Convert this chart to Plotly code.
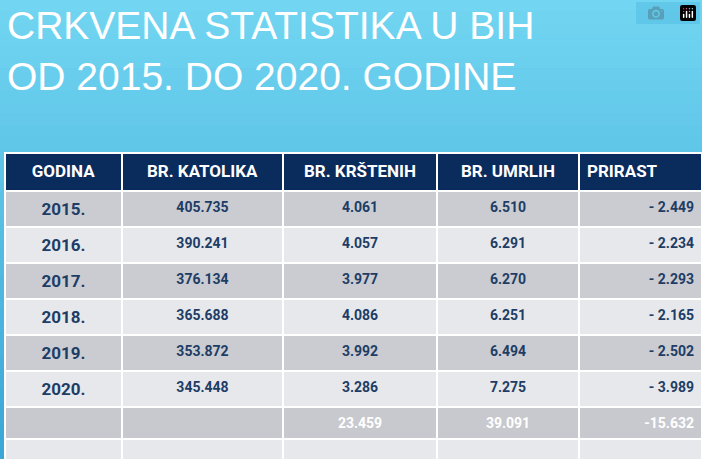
import plotly.graph_objects as go
import numpy as np

headers = ["GODINA", "BR. KATOLIKA", "BR. KRŠTENIH", "BR. UMRLIH", "PRIRAST"]
godina = ["2015.", "2016.", "2017.", "2018.", "2019.", "2020.", "", ""]
katolika = ["405.735", "390.241", "376.134", "365.688", "353.872", "345.448", "", ""]
krsteni = ["4.061", "4.057", "3.977", "4.086", "3.992", "3.286", "23.459", ""]
umrli = ["6.510", "6.291", "6.270", "6.251", "6.494", "7.275", "39.091", ""]
prirast = ["- 2.449", "- 2.234", "- 2.293", "- 2.165", "- 2.502", "- 3.989", "-15.632", ""]

W, H = 702, 459
fig = go.Figure()

n = 40
top = np.array([0x72, 0xd6, 0xf2]); bot = np.array([0x3c, 0xa6, 0xd6])
for i in range(n):
    t = i / (n - 1)
    c = (top * (1 - t) + bot * t).astype(int)
    fig.add_shape(type="rect", xref="paper", yref="paper", x0=0, x1=1,
                  y0=1 - (i + 1) / n, y1=1 - i / n + 0.001, line_width=0,
                  fillcolor=f"rgb({c[0]},{c[1]},{c[2]})", layer="below")

dark, light, tot = "#cbccd1", "#e7e8eb", "#c8c9ce"
rowfill = [dark, light, dark, light, dark, light, tot, light]
txt = "#1d3d66"
rowtxt = [txt] * 6 + ["white", txt]
fam = "Roboto, Liberation Sans"

fig.add_trace(go.Table(
    domain=dict(x=[5 / W, 1], y=[0, 1 - 153 / H]),
    columnwidth=[117, 161, 154, 142, 123],
    header=dict(values=[f"<b>{h}</b>" for h in headers],
                fill_color="#0a2c5c", line=dict(color="white", width=2),
                font=dict(color="white", size=17, family=fam),
                align=["center", "center", "center", "center", "left"], height=38),
    cells=dict(values=[[f"<b>{v}</b>" for v in col] for col in [godina, katolika, krsteni, umrli, prirast]],
               fill_color=[rowfill] * 5, line=dict(color="white", width=2),
               font=dict(color=[rowtxt] * 5, size=[17, 14, 14, 14, 14], family=fam),
               align=["center", "center", "center", "center", "right"], height=32),
))

fig.add_annotation(text="CRKVENA STATISTIKA U BIH<br>OD 2015. DO 2020. GODINE",
                   xref="paper", yref="paper", x=5 / W, y=1 - 2 / H, xanchor="left", yanchor="top",
                   align="left", showarrow=False,
                   font=dict(color="white", size=39, family="Liberation Sans"))

fig.update_layout(width=W, height=H, margin=dict(l=0, r=0, t=0, b=0),
                  paper_bgcolor="#4fb9e2", plot_bgcolor="rgba(0,0,0,0)")
fig.write_html("out.html", post_script="document.body.style.margin='0';document.body.style.overflow='hidden';")
